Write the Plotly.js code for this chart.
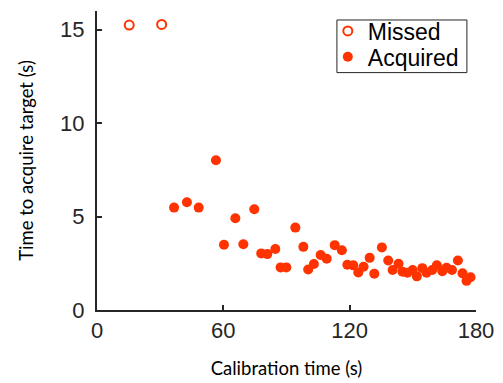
<!DOCTYPE html>
<html><head><meta charset="utf-8">
<script src="https://cdn.plot.ly/plotly-3.0.1.min.js"></script>
<style>html,body{margin:0;padding:0;background:#fff}#chart{width:503px;height:383px}</style>
</head><body><div id="chart"></div>
<script>
const missedTime = [15.3, 30.7];
const missedAcq = [15.25, 15.28];
const acquiredTime = [36.6, 42.7, 48.3, 56.5, 60.3, 65.7, 69.5, 74.7, 78.0, 80.9,
  84.7, 87.2, 89.9, 94.2, 98.0, 100.3, 103.0, 106.2, 109.1, 112.9,
  116.3, 118.9, 121.7, 124.1, 126.6, 129.5, 131.7, 135.3, 138.3, 140.4,
  143.2, 145.1, 147.4, 149.9, 151.9, 154.5, 156.5, 159.2, 161.4, 164.0,
  166.0, 168.6, 171.4, 173.6, 175.5, 177.4];
const acquiredAcq = [5.48, 5.77, 5.48, 8.01, 3.49, 4.91, 3.52, 5.39, 3.03, 2.99,
  3.26, 2.28, 2.28, 4.41, 3.38, 2.17, 2.46, 2.94, 2.74, 3.47,
  3.20, 2.42, 2.39, 2.01, 2.31, 2.79, 1.94, 3.35, 2.65, 2.14,
  2.47, 2.05, 1.99, 2.14, 1.80, 2.24, 1.99, 2.14, 2.39, 2.08,
  2.26, 2.14, 2.65, 1.96, 1.56, 1.75];
const xTicks = [0, 60, 120, 180];
const yTicks = [0, 5, 10, 15];
const col = '#ff3300';
const axisCol = '#262626';
const tickFont = {family: 'Liberation Sans, Arial, sans-serif', size: 22, color: '#262626'};
const titleFont = {family: 'Lato, Open Sans, sans-serif', size: 18.5, color: '#000'};
const legFont = {family: 'Liberation Sans, Arial, sans-serif', size: 23, color: '#000'};

const traces = [
  {x: missedTime, y: missedAcq, type: 'scatter', mode: 'markers', name: 'Missed', legend: 'legend',
   marker: {symbol: 'circle-open', size: 9, color: col, line: {width: 2, color: col}}},
  {x: acquiredTime, y: acquiredAcq, type: 'scatter', mode: 'markers', name: 'Acquired', legend: 'legend2',
   marker: {symbol: 'circle', size: 10, color: col}}
];
const legBase = {x: 0.609, xanchor: 'left', yanchor: 'middle', borderwidth: 0,
  bgcolor: 'rgba(0,0,0,0)', font: legFont};
const layout = {
  width: 503, height: 383,
  margin: {l: 97, r: 27, t: 10, b: 73},
  paper_bgcolor: '#fff', plot_bgcolor: '#fff',
  showlegend: true,
  legend: Object.assign({}, legBase, {y: 0.93}),
  legend2: Object.assign({}, legBase, {y: 0.844}),
  shapes: [{type: 'rect', xref: 'paper', yref: 'paper', x0: 0.633, x1: 0.976, y0: 0.794, y1: 0.97,
    line: {color: axisCol, width: 1}, fillcolor: 'rgba(0,0,0,0)', layer: 'below'}],
  xaxis: {range: [0, 180], tickvals: xTicks, ticktext: xTicks.map(String),
    showgrid: false, zeroline: false, showline: true, linecolor: axisCol, linewidth: 2,
    ticks: 'inside', ticklen: 5, tickwidth: 2, tickcolor: axisCol, tickfont: tickFont,
    title: {text: 'Calibration time (s)', font: titleFont, standoff: 20}},
  yaxis: {range: [0, 16], tickvals: yTicks, ticktext: yTicks.map(String),
    showgrid: false, zeroline: false, showline: true, linecolor: axisCol, linewidth: 2,
    ticks: 'inside', ticklen: 5, tickwidth: 2, tickcolor: axisCol, tickfont: tickFont,
    ticklabelstandoff: 6,
    title: {text: 'Time to acquire target (s)', font: titleFont, standoff: 22}}
};
Plotly.newPlot('chart', traces, layout, {displayModeBar: false, staticPlot: true});
</script></body></html>
